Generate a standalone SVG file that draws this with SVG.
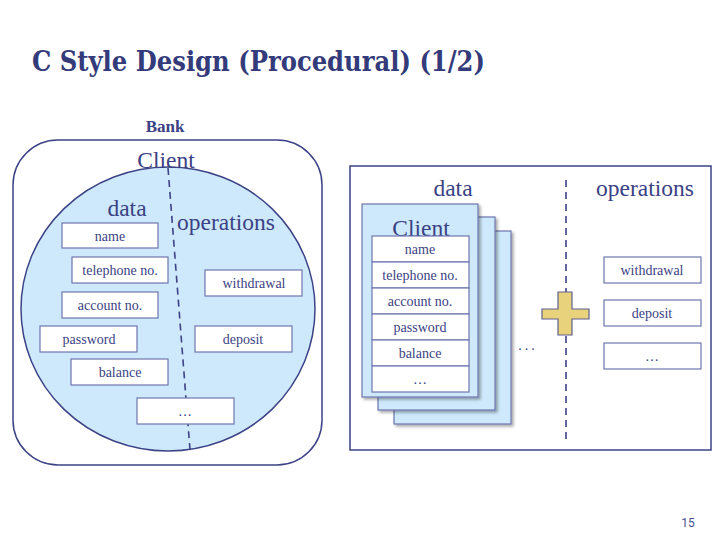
<svg xmlns="http://www.w3.org/2000/svg" width="720" height="540" viewBox="0 0 720 540">
  <defs>
    <style>
      .title { font-family: "DejaVu Serif", "Liberation Serif", serif; font-weight: bold; font-size: 27px; fill: #343b7b; }
      .big { font-family: "Liberation Serif", "Times New Roman", serif; font-size: 23.5px; fill: #3b4284; }
      .small { font-family: "Liberation Serif", "Times New Roman", serif; font-size: 14px; fill: #3b4284; }
      .box { fill: #ffffff; stroke: #6f76ad; stroke-width: 1.2; }
      .frame { fill: #ffffff; stroke: #3d4386; stroke-width: 1.5; }
      .blob { fill: #cde9fb; stroke: #3d4386; stroke-width: 1.5; }
      .card { fill: #cde9fb; stroke: #6f76ad; stroke-width: 1.2; }
      .dash { fill: none; stroke: #3d4386; stroke-width: 1.6; stroke-dasharray: 7 5; }
    </style>
    <filter id="shadow" x="-10%" y="-10%" width="130%" height="130%">
      <feGaussianBlur in="SourceAlpha" stdDeviation="1.5"/>
      <feOffset dx="2" dy="2"/>
      <feComponentTransfer><feFuncA type="linear" slope="0.35"/></feComponentTransfer>
      <feMerge><feMergeNode/><feMergeNode in="SourceGraphic"/></feMerge>
    </filter>
  </defs>

  <rect width="720" height="540" fill="#ffffff"/>

  <text class="title" x="32" y="71" textLength="453" lengthAdjust="spacingAndGlyphs">C Style Design (Procedural) (1/2)</text>

  <!-- Bank container with the Client circle -->
  <g id="bank">
    <text x="165" y="132" text-anchor="middle" font-family="Liberation Serif, serif" font-weight="bold" font-size="17" fill="#3b4284">Bank</text>
    <rect class="frame" x="13" y="140" width="309" height="325" rx="45"/>
  </g>

  <g id="client-circle">
    <ellipse class="blob" cx="168" cy="309" rx="147" ry="142"/>
    <text class="big" x="166" y="168" text-anchor="middle" font-size="25">Client</text>
    <text class="big" x="127" y="216" text-anchor="middle">data</text>
    <text class="big" x="226" y="230" text-anchor="middle">operations</text>
  </g>

  <g id="connectors">
    <line class="dash" x1="168" y1="168" x2="190" y2="450"/>
    <line class="dash" x1="566" y1="180" x2="566" y2="440"/>
  </g>

  <g id="left-fields">
    <g id="f-name"><rect class="box" x="62" y="223" width="96" height="25"/><text class="small" x="110" y="241" text-anchor="middle">name</text></g>
    <g id="f-tel"><rect class="box" x="72" y="257" width="96" height="26"/><text class="small" x="120" y="275" text-anchor="middle">telephone no.</text></g>
    <g id="f-acct"><rect class="box" x="62" y="292" width="96" height="26"/><text class="small" x="110" y="310" text-anchor="middle">account no.</text></g>
    <g id="f-pass"><rect class="box" x="40" y="326" width="97" height="26"/><text class="small" x="89" y="344" text-anchor="middle">password</text></g>
    <g id="f-bal"><rect class="box" x="71" y="359" width="97" height="26"/><text class="small" x="120" y="377" text-anchor="middle">balance</text></g>
    <g id="f-more"><rect class="box" x="137" y="398" width="97" height="26"/><text class="small" x="185" y="416" text-anchor="middle">…</text></g>
    <g id="op-withdraw"><rect class="box" x="205" y="270" width="97" height="26"/><text class="small" x="254" y="288" text-anchor="middle">withdrawal</text></g>
    <g id="op-deposit"><rect class="box" x="195" y="326" width="97" height="26"/><text class="small" x="243" y="344" text-anchor="middle">deposit</text></g>
  </g>

  <!-- Right panel: separated data and operations -->
  <g id="panel">
    <rect x="350" y="166" width="361" height="284" fill="none" stroke="#3d4386" stroke-width="1.5"/>
    <text class="big" x="453" y="196" text-anchor="middle">data</text>
    <text class="big" x="645" y="196" text-anchor="middle">operations</text>
  </g>

  <g id="client-cards">
    <rect class="card" x="394" y="231" width="117" height="193" filter="url(#shadow)"/>
    <rect class="card" x="378" y="217" width="117" height="193" filter="url(#shadow)"/>
    <rect class="card" x="362" y="204" width="116" height="193" filter="url(#shadow)"/>
    <text class="big" x="421" y="236" text-anchor="middle" font-size="25">Client</text>
    <g id="table">
      <rect class="box" x="372" y="236" width="97" height="26"/><text class="small" x="420" y="254" text-anchor="middle">name</text>
      <rect class="box" x="372" y="262" width="97" height="26"/><text class="small" x="420" y="280" text-anchor="middle">telephone no.</text>
      <rect class="box" x="372" y="288" width="97" height="26"/><text class="small" x="420" y="306" text-anchor="middle">account no.</text>
      <rect class="box" x="372" y="314" width="97" height="26"/><text class="small" x="420" y="332" text-anchor="middle">password</text>
      <rect class="box" x="372" y="340" width="97" height="26"/><text class="small" x="420" y="358" text-anchor="middle">balance</text>
      <rect class="box" x="372" y="366" width="97" height="26"/><text class="small" x="420" y="384" text-anchor="middle">…</text>
    </g>
    <text x="528" y="350" text-anchor="middle" font-family="Liberation Serif, serif" font-size="14" letter-spacing="3" fill="#3b4284">...</text>
  </g>

  <g id="plus">
    <path d="M558 292 H572 V309 H589 V319 H572 V335 H558 V319 H542 V309 H558 Z" fill="#e8d27c" stroke="#5d5f8e" stroke-width="1.2"/>
  </g>

  <g id="right-ops">
    <g id="r-withdraw"><rect class="box" x="604" y="257" width="97" height="26"/><text class="small" x="652" y="275" text-anchor="middle">withdrawal</text></g>
    <g id="r-deposit"><rect class="box" x="604" y="300" width="97" height="26"/><text class="small" x="652" y="318" text-anchor="middle">deposit</text></g>
    <g id="r-more"><rect class="box" x="604" y="343" width="97" height="26"/><text class="small" x="652" y="361" text-anchor="middle">…</text></g>
  </g>

  <text x="688" y="527" text-anchor="middle" font-family="Roboto, sans-serif" font-size="12" fill="#4a5090">15</text>
</svg>
